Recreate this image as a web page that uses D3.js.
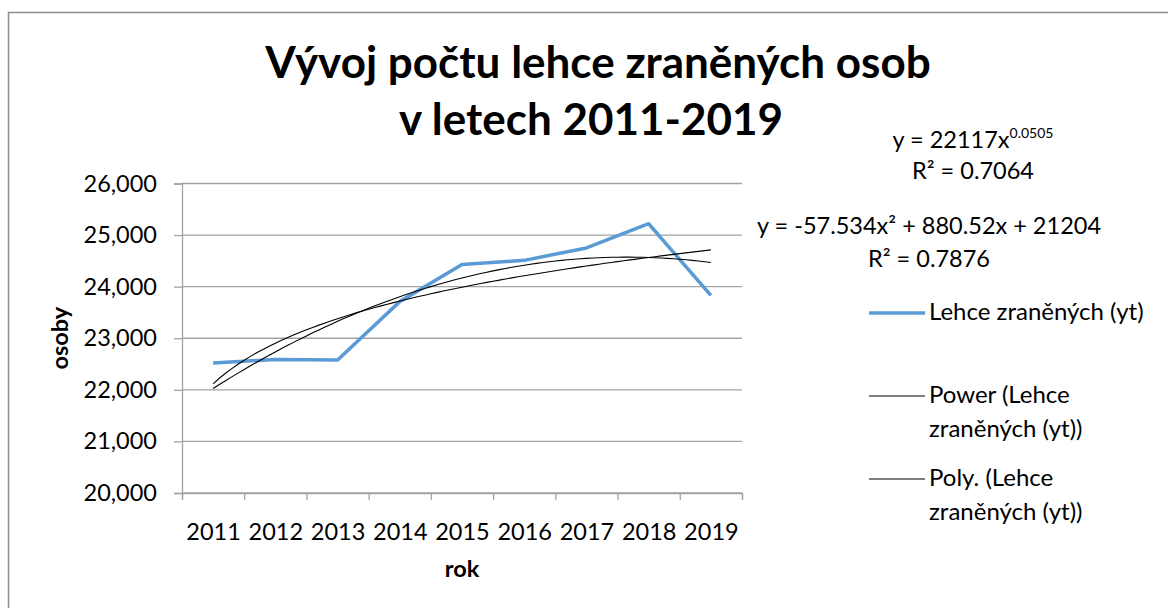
<!DOCTYPE html>
<html>
<head>
<meta charset="utf-8">
<script src="https://cdn.jsdelivr.net/npm/d3@7"></script>
<style>
  body { margin: 0; background: #fff; }
  svg text { font-family: Lato, "Open Sans", sans-serif; fill: #000; }
</style>
</head>
<body>
<svg id="chart" width="1168" height="608"></svg>
<script>
// data
const years = ["2011", "2012", "2013", "2014", "2015", "2016", "2017", "2018", "2019"];
const lehce = [22520, 22590, 22580, 23710, 24430, 24510, 24750, 25220, 23830];
const yTicks = [20000, 21000, 22000, 23000, 24000, 25000, 26000];

// trendline coefficients as printed on the chart
const powerCoef = [22117, 0.0505];
const polyCoef = [-57.534, 880.52, 21204];

const legendNames = ["Lehce zraněných (yt)", "Power (Lehce|zraněných (yt))", "Poly. (Lehce|zraněných (yt))"];

const svg = d3.select("#chart");
const margin = {top: 183.5, right: 426, bottom: 115, left: 182};
const width = +svg.attr("width"), height = +svg.attr("height");

// chart area frame
svg.append("rect")
    .attr("x", 8.5).attr("y", 12.5)
    .attr("width", 1300).attr("height", 700)
    .attr("fill", "none").attr("stroke", "#8c8c8c").attr("stroke-width", 1.5);

// title
const title = svg.append("text")
    .attr("text-anchor", "middle")
    .style("font-weight", "bold").style("font-size", "44px");
title.append("tspan").attr("x", 598).attr("y", 78).text("Vývoj počtu lehce zraněných osob");
title.append("tspan").attr("x", 591).attr("y", 135).text("v letech 2011-2019");

var x = d3.scaleLinear()
    .domain([0.5, years.length + 0.5])
    .range([margin.left, width - margin.right]);

var y = d3.scaleLinear()
    .domain([20000, 26000])
    .range([height - margin.bottom, margin.top]);

// gridlines
svg.append("g")
    .selectAll("line")
    .data(yTicks)
    .enter().append("line")
    .attr("x1", x(0.5)).attr("x2", x(years.length + 0.5))
    .attr("y1", function(d) { return y(d); })
    .attr("y2", function(d) { return y(d); })
    .attr("stroke", "#a3a3a3").attr("stroke-width", 1.3);

// y axis
const yAxis = svg.append("g")
    .attr("transform", "translate(" + margin.left + ",0)")
    .call(d3.axisLeft(y).tickValues(yTicks).tickFormat(d3.format(",")).tickSize(8).tickPadding(17));
yAxis.selectAll("text").style("font-size", "23.5px").attr("font-family", null);

// x axis: boundary ticks + year labels
const xAxis = svg.append("g")
    .attr("transform", "translate(0," + y(20000) + ")")
    .call(d3.axisBottom(x).tickValues(d3.range(0.5, years.length + 1, 1)).tickFormat("").tickSize(7));
const xLabels = svg.append("g")
    .attr("transform", "translate(0," + y(20000) + ")")
    .call(d3.axisBottom(x).tickValues(d3.range(1, years.length + 1)).tickFormat(function(d) { return years[d - 1]; }).tickSize(0).tickPadding(30));
xLabels.select(".domain").remove();
xLabels.selectAll("text").style("font-size", "23.5px").attr("font-family", null);

svg.selectAll(".domain, .tick line").attr("stroke", "#a3a3a3").attr("stroke-width", 1.3);

// axis titles
svg.append("text")
    .attr("x", x(5)).attr("y", 577)
    .attr("text-anchor", "middle")
    .style("font-weight", "bold").style("font-size", "23.5px")
    .text("rok");
svg.append("text")
    .attr("transform", "translate(68," + y(23000) + ") rotate(-90)")
    .attr("text-anchor", "middle")
    .style("font-weight", "bold").style("font-size", "23.5px")
    .text("osoby");

// series line
const line = d3.line()
    .x(function(d, i) { return x(i + 1); })
    .y(function(d) { return y(d); });

svg.append("path")
    .datum(lehce)
    .attr("fill", "none")
    .attr("stroke", "#5b9bd5")
    .attr("stroke-width", 3.5)
    .attr("stroke-linejoin", "round")
    .attr("d", line);

// trendlines from the printed equations
const ts = d3.range(1, years.length + 0.001, 0.1);
const curve = d3.line()
    .x(function(d) { return x(d[0]); })
    .y(function(d) { return y(d[1]); });

svg.append("path")
    .datum(ts.map(function(t) { return [t, powerCoef[0] * Math.pow(t, powerCoef[1])]; }))
    .attr("fill", "none").attr("stroke", "#000").attr("stroke-width", 1.1)
    .attr("d", curve);
svg.append("path")
    .datum(ts.map(function(t) { return [t, polyCoef[0] * t * t + polyCoef[1] * t + polyCoef[2]]; }))
    .attr("fill", "none").attr("stroke", "#000").attr("stroke-width", 1.1)
    .attr("d", curve);

// equation labels
const eq1 = svg.append("text").attr("x", 973).attr("y", 148).attr("text-anchor", "middle").style("font-size", "23.5px");
eq1.append("tspan").text("y = " + powerCoef[0] + "x");
eq1.append("tspan").attr("dy", -10).style("font-size", "14px").text(powerCoef[1]);
svg.append("text").attr("x", 973).attr("y", 179).attr("text-anchor", "middle").style("font-size", "23.5px")
    .text("R² = 0.7064");
svg.append("text").attr("x", 929).attr("y", 234).attr("text-anchor", "middle").style("font-size", "23.5px")
    .text("y = " + polyCoef[0] + "x² + " + polyCoef[1] + "x + " + polyCoef[2]);
svg.append("text").attr("x", 929).attr("y", 267).attr("text-anchor", "middle").style("font-size", "23.5px")
    .text("R² = 0.7876");

// legend
const legendY = [313, 396, 479];
const legend = svg.append("g")
    .selectAll("g")
    .data(legendNames)
    .enter().append("g")
    .attr("transform", function(d, i) { return "translate(869," + legendY[i] + ")"; });

legend.append("line")
    .attr("x1", 0).attr("x2", 56)
    .attr("stroke", function(d, i) { return i === 0 ? "#5b9bd5" : "#000"; })
    .attr("stroke-width", function(d, i) { return i === 0 ? 3.5 : 1.1; });

legend.append("text")
    .style("font-size", "24px")
    .selectAll("tspan")
    .data(function(d) { return d.split("|"); })
    .enter().append("tspan")
    .attr("x", 60)
    .attr("y", function(d, i) { return 7 + i * 34; })
    .text(function(d) { return d; });
</script>
</body>
</html>
